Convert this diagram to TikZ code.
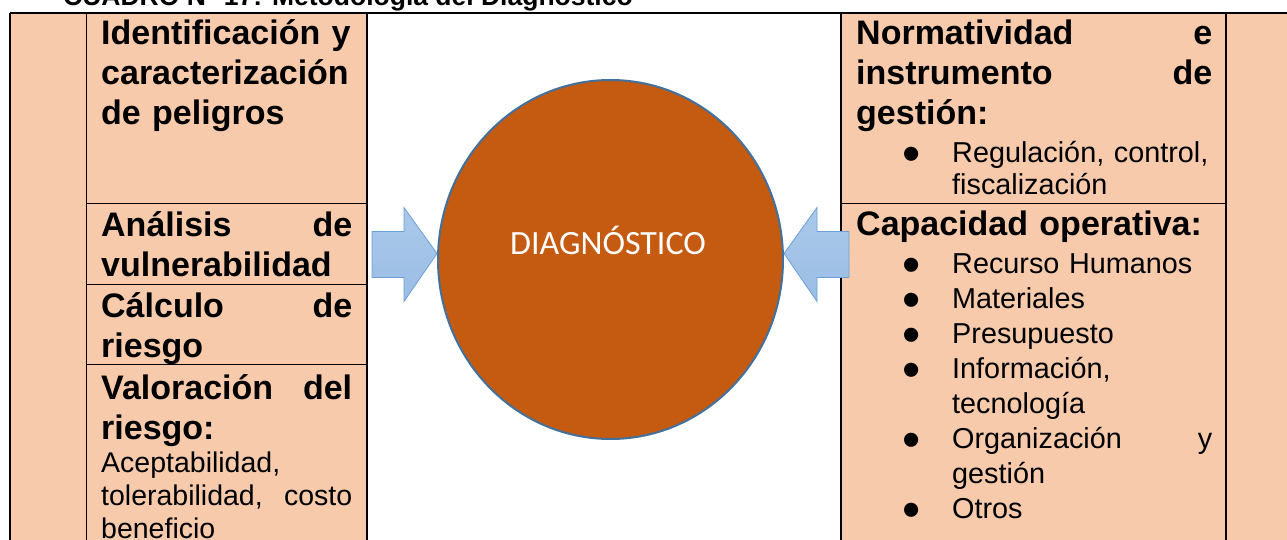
\documentclass[tikz,border=0pt]{standalone}
\usepackage{fontspec}
\setmainfont{Liberation Sans}
\newfontfamily\calibri{Carlito}
\usetikzlibrary{shapes.geometric}
\definecolor{peach}{HTML}{F7CAAC}
\definecolor{rust}{HTML}{C55A11}
\definecolor{ringblue}{HTML}{41719C}
\definecolor{arrowtop}{HTML}{AAC8EA}
\definecolor{arrowbot}{HTML}{9BBEE5}
\definecolor{arrowline}{HTML}{6C9FD6}
\newcommand{\jfill}{\hskip 0pt plus 1filll}
\newcommand{\blt}{\makebox[49pt][l]{\hspace*{-1pt}\smash{\raisebox{-9pt}{\fontsize{52}{52}\selectfont\textbullet}}}}
\newcommand{\ind}{\hspace*{49pt}}

\begin{document}
\begin{tikzpicture}[x=1pt,y=-1pt,
	hd/.style={font=\fontsize{34}{40}\selectfont\bfseries},
	bd/.style={font=\fontsize{28.5}{33}\selectfont},
	cell/.style={anchor=base west,inner sep=0pt,align=left},
	rule/.style={line width=1.6pt},
	thinrule/.style={line width=0.9pt},
	blockarrow/.style={draw=arrowline,line width=0.8pt,top color=arrowtop,
		bottom color=arrowbot,line join=miter}]
	\useasboundingbox (0,0) rectangle (1287,540);
	\fill[peach] (10,13) rectangle (367,545);
	\fill[peach] (841,13) rectangle (1295,545);
	\draw[rule] (10,13) -- (1295,13);
	\foreach \x in {10,367,841,1226} \draw[rule] (\x,13) -- (\x,545);
	\draw[thinrule] (86,13) -- (86,545);
	\foreach \y in {203,284,364} \draw[thinrule] (86,\y) -- (367,\y);
	\draw[thinrule] (841,203) -- (1226,203);
	
	\node[cell,font=\fontsize{26.5}{30}\selectfont\bfseries](title) at (63,6)
		{CUADRO N° 17: Metodología del Diagnóstico};
	
	\node[cell,hd,text width=251pt](ident) at (101,45)
		{Identificación y\\caracterización\\de peligros};
	\node[cell,hd,text width=251pt](anvul) at (101,236)
		{Análisis\jfill de\\vulnerabilidad};
	\node[cell,hd,text width=251pt](calrie) at (101,317)
		{Cálculo\jfill de\\riesgo};
	\node[cell,hd,text width=251pt](valrie) at (101,399)
		{Valoración\jfill del\\riesgo:};
	\node[cell,bd,text width=251pt](valtxt) at (101,472)
		{Aceptabilidad,\\tolerabilidad,\jfill costo\\beneficio};
	
	\node[cell,hd,text width=356pt](normat) at (856,45)
		{Normatividad\jfill e\\instrumento\jfill de\\gestión:};
	\node[cell,font=\fontsize{28.8}{32}\selectfont,text width=309pt](regul) at (903,163)
		{\blt Regulación, control,\\\ind fiscalización};
	\node[cell,hd,text width=356pt](capop) at (856,235) {Capacidad operativa:};
	\node[cell,font=\fontsize{28.8}{35.1}\selectfont,text width=309pt](recur) at (903,273)
		{\blt Recurso Humanos\\\blt Materiales\\\blt Presupuesto\\
		 \blt Información,\\\ind tecnología\\\blt Organización\jfill y\\
		 \ind gestión\\\blt Otros};
	
	\node[ellipse,draw=ringblue,line width=2pt,fill=rust,minimum width=345pt,
		minimum height=359pt,inner sep=0pt](diag) at (610.5,259.5) {};
	\node[font=\calibri\fontsize{34}{40}\selectfont,text=white,anchor=base,
		inner sep=0pt](diaglbl) at (608,254) {DIAGNÓSTICO};
	
	\draw[blockarrow] ([yshift=6pt]diag.west) -- ++(-33,-46) -- ++(0,24)
		-- ++(-32,0) -- ++(0,46) -- ++(32,0) -- ++(0,24) -- cycle;
	\draw[blockarrow] ([yshift=6pt]diag.east) -- ++(33,-46) -- ++(0,24)
		-- ++(32,0) -- ++(0,46) -- ++(-32,0) -- ++(0,24) -- cycle;
\end{tikzpicture}
\end{document}
